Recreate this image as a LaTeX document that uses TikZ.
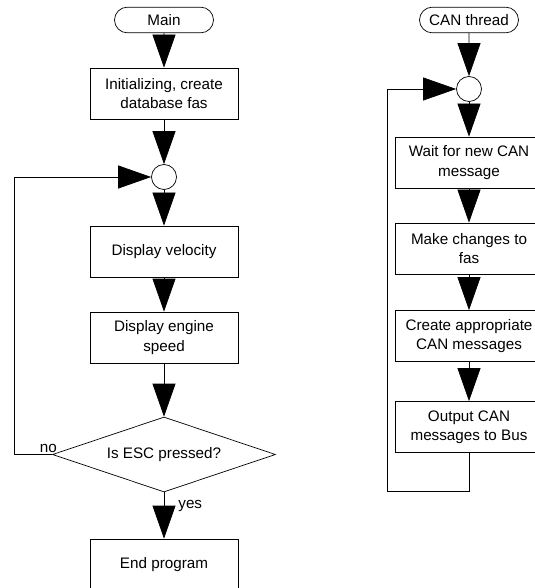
\documentclass[tikz,border=0pt]{standalone}
\usepackage{fontspec}
\setmainfont{Liberation Sans}
\usetikzlibrary{arrows.meta, shapes.geometric, shapes.misc}

\begin{document}
\begin{tikzpicture}[
  x=0.03cm, y=-0.03cm,
  every node/.style={font=\fontsize{13}{16.4}\selectfont},
  term/.style={rounded rectangle, draw, line width=0.6pt, inner sep=0pt,
               minimum width=2.97cm, minimum height=0.77cm},
  proc/.style={rectangle, draw, line width=0.6pt, inner sep=0pt,
               minimum width=4.44cm, minimum height=1.53cm, align=center},
  junc/.style={circle, draw, line width=0.6pt, inner sep=0pt, minimum size=0.75cm},
  decide/.style={diamond, draw, line width=0.6pt, inner sep=0pt, aspect=3,
                 minimum width=6.69cm, minimum height=2.25cm},
  arr/.style={-{Triangle[width=0.69cm, length=0.99cm]}, line width=0.6pt},
  lbl/.style={inner sep=0pt}
]
  \useasboundingbox (0,0) rectangle (535,588);

  %% --- Left column: main program ---
  \node[term]   (main) at (164,20)    {Main};
  \node[proc]   (init) at (164,93.5)  {Initializing, create\\database fas};
  \node[junc]   (j1)   at (164,177)   {};
  \node[proc]   (vel)  at (164,251.5) {Display velocity};
  \node[proc]   (eng)  at (164,337.5) {Display engine\\speed};
  \node[decide] (esc)  at (164,454.5) {Is ESC pressed?};
  \node[proc]   (endp) at (164,564.5) {End program};

  %% --- Right column: CAN thread ---
  \node[term] (can)  at (469,20)    {CAN thread};
  \node[junc] (j2)   at (469,89)    {};
  \node[proc] (wait) at (469,162.5) {Wait for new CAN\\message};
  \node[proc] (chg)  at (469,248.5) {Make changes to\\fas};
  \node[proc] (crt)  at (469,336)   {Create appropriate\\CAN messages};
  \node[proc] (outp) at (469,427)   {Output CAN\\messages to Bus};

  %% --- Loop corners ---
  \coordinate (lpL) at (14,454.5);
  \coordinate (lpR) at (387,491);

  %% --- Arrows ---
  \draw[arr] (main) -- (init);
  \draw[arr] (init) -- (j1);
  \draw[arr] (j1)   -- (vel);
  \draw[arr] (vel)  -- (eng);
  \draw[arr] (eng)  -- (esc);
  \draw[arr] (esc)  -- node[lbl, right=12pt, pos=0.3]{yes} (endp);
  \draw[arr] (esc.west) -- node[lbl, above=1pt, pos=0.1]{no} (lpL) |- (j1.west);

  \draw[arr] (can)  -- (j2);
  \draw[arr] (j2)   -- (wait);
  \draw[arr] (wait) -- (chg);
  \draw[arr] (chg)  -- (crt);
  \draw[arr] (crt)  -- (outp);
  \draw[arr] (outp.south) |- (lpR) |- (j2.west);

\end{tikzpicture}
\end{document}
